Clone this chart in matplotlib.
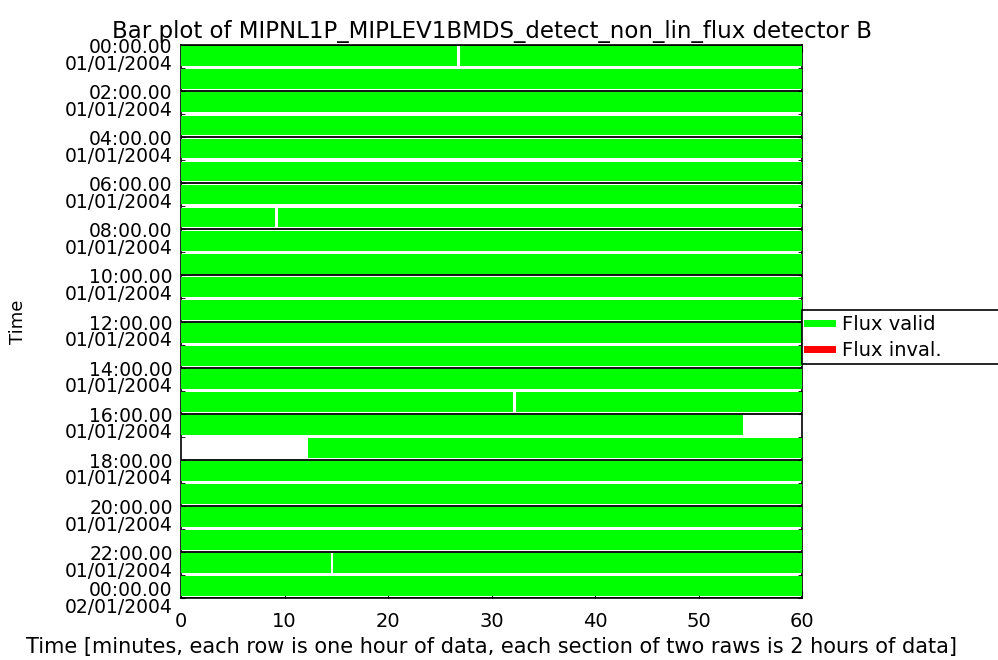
import matplotlib
matplotlib.use("Agg")
import matplotlib.pyplot as plt
from matplotlib.transforms import ScaledTranslation

# ---- data ----
n_rows = 24
row_hours = list(range(n_rows))
data_start = [0.0] * n_rows          # minute where data begins in each row
data_end = [60.0] * n_rows           # minute where data ends in each row
data_start[17] = 12.3
data_end[16] = 54.3
gap_rows = [0, 7, 15, 22]            # rows with a short data gap
gap_minutes = [26.8, 9.2, 32.2, 14.6]
gap_width = 0.25
invalid_rows = []                    # no invalid flux segments
section_hours = list(range(0, 25, 2))
section_labels = ["%02d:00.00\n01/01/2004" % (h % 24) for h in section_hours[:-1]] + ["00:00.00\n02/01/2004"]
x_ticks = [0, 10, 20, 30, 40, 50, 60]

GREEN = "#00ff00"
RED = "#ff0000"

plt.rcParams['font.family'] = ['DejaVu Sans']
fig = plt.figure(figsize=(9.98, 6.60), dpi=100)
ax = fig.add_axes([181/998, 1-598/660, (802-181)/998, (598-45)/660])

bar_top = 0.06
bar_h = 0.86
for r in row_hours:
    segs = [(data_start[r], data_end[r])]
    if r in gap_rows:
        g = gap_minutes[gap_rows.index(r)]
        new = []
        for s, e in segs:
            if s < g < e:
                new += [(s, g - gap_width / 2), (g + gap_width / 2, e)]
            else:
                new.append((s, e))
        segs = new
    ax.broken_barh([(s, e - s) for s, e in segs], (r + bar_top, bar_h),
                   facecolors=GREEN, edgecolor='none', zorder=3)

for h in section_hours:
    ax.axhline(h, color='black', lw=1.3, zorder=4)

ax.set_xlim(0, 60)
ax.set_ylim(24, 0)
ax.set_xticks(x_ticks)
ax.set_yticks(section_hours)
ax.set_yticklabels(section_labels, fontsize=13.5, linespacing=0.85)
ax.set_yticks(row_hours, minor=True)
ax.tick_params(axis='x', direction='in', top=True, bottom=True, length=5, labelsize=14, pad=10)
ax.tick_params(axis='y', which='both', direction='in', left=True, right=True, length=3, pad=6)
for sp in ax.spines.values():
    sp.set_zorder(2)
    sp.set_linewidth(1.2)

# shift y tick labels so the first line sits on the section boundary
labels = ax.get_yticklabels()
for i, lab in enumerate(labels):
    dy = -10 if i < len(labels) - 1 else 0
    lab.set_transform(lab.get_transform() + ScaledTranslation(0, dy / 100, fig.dpi_scale_trans))

ax.set_title("Bar plot of MIPNL1P_MIPLEV1BMDS_detect_non_lin_flux detector B",
             fontsize=16.5, pad=5)
ax.set_xlabel("Time [minutes, each row is one hour of data, each section of two raws is 2 hours of data]",
              fontsize=15)
ax.xaxis.set_label_coords(0.5, -0.07)
ax.set_ylabel("Time", fontsize=13)
ax.yaxis.set_label_coords(-0.248, 0.5)

h1, = ax.plot([], [], color=GREEN, lw=5, label="Flux valid")
h2, = ax.plot([], [], color=RED, lw=5, label="Flux inval.")
leg = ax.legend(handles=[h1, h2], loc='upper left', bbox_to_anchor=(1.0, 0.521, 0.36, 0.0),
                mode='expand', borderaxespad=0, fontsize=14, handlelength=1.3,
                handletextpad=0.5, fancybox=False, frameon=True, framealpha=1,
                edgecolor='black', borderpad=0.25, labelspacing=0.35)
leg.get_frame().set_linewidth(1.2)

fig.savefig("out.png", dpi=100)
